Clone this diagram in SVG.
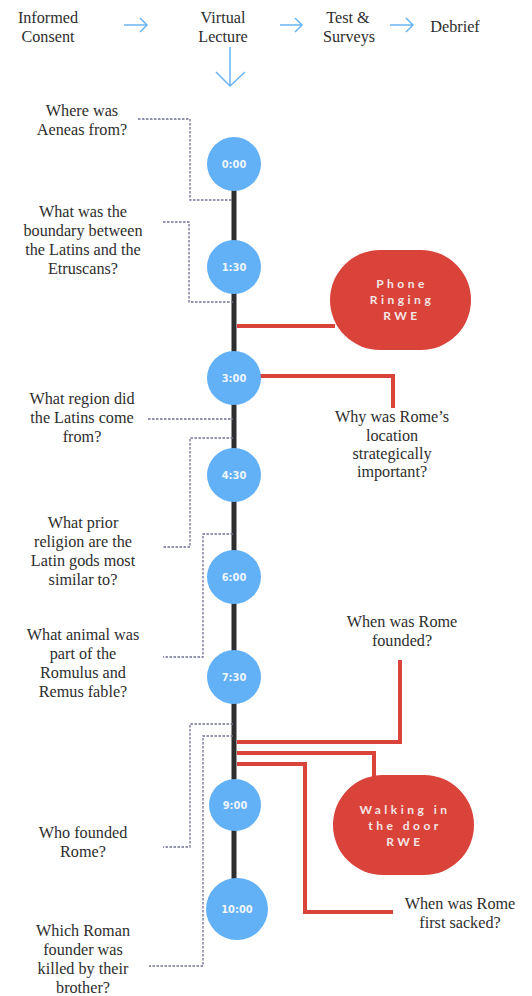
<svg xmlns="http://www.w3.org/2000/svg" width="532" height="996" viewBox="0 0 532 996">
<defs>
<style>
.q{font-family:'Liberation Serif',serif;font-size:16.2px;fill:#2e2e2e;text-anchor:middle}
.t{font-family:'DejaVu Sans Condensed','DejaVu Sans',sans-serif;font-stretch:condensed;font-weight:bold;font-size:11px;fill:#eef6ff;text-anchor:middle}
.r{font-family:'Lato','Liberation Sans',sans-serif;font-weight:bold;font-size:12px;fill:#f4e6e4;text-anchor:middle;letter-spacing:3.5px}
.dot{fill:none;stroke:#6f6f98;stroke-width:1.3;stroke-dasharray:2.5 1.5}
.red{fill:none;stroke:#d9433a;stroke-width:4}
.blue{fill:none;stroke:#6ab4f2;stroke-width:1.5}
.node{fill:#62b0f6}
.ev{fill:#d9433a}
</style>
</defs>
<rect width="532" height="996" fill="#ffffff"/>
<g id="flow">
<text class="q" x="48" y="23">Informed</text>
<text class="q" x="48" y="42">Consent</text>
<text class="q" x="223" y="23">Virtual</text>
<text class="q" x="223" y="42">Lecture</text>
<text class="q" x="348" y="23">Test &amp;</text>
<text class="q" x="349" y="42">Surveys</text>
<text class="q" x="455" y="32">Debrief</text>
</g>
<g id="flow-arrows">
<path class="blue" d="M124 25H147M140 18L147 25L140 32"/>
<path class="blue" d="M280 25H302M295 18L302 25L295 32"/>
<path class="blue" d="M390 25H413M406 18L413 25L406 32"/>
<path class="blue" d="M230 47V86M216 72L230 86L245 72"/>
</g>
<g id="connectors">
<line x1="234" y1="185" x2="234" y2="885" stroke="#2e2e2e" stroke-width="5"/>
<path class="dot" d="M138 119H190V200H233"/>
<path class="dot" d="M163 222H189V302H233"/>
<path class="dot" d="M148 419H233"/>
<path class="dot" d="M233 438H190V547H163"/>
<path class="dot" d="M233 534H203V657H163"/>
<path class="dot" d="M233 724H190V847H163"/>
<path class="dot" d="M233 736H203V966H149"/>
<path class="red" d="M237 326H335"/>
<path class="red" d="M258 376H393V408"/>
<path class="red" d="M237 742H400V660"/>
<path class="red" d="M237 753H374V777"/>
<path class="red" d="M237 764H305V912H393"/>
</g>
<g id="t0000"><circle class="node" cx="234" cy="164" r="27"/><text class="t" x="234" y="168">0:00</text></g>
<g id="t0130"><circle class="node" cx="234" cy="267" r="27"/><text class="t" x="234" y="271">1:30</text></g>
<g id="t0300"><circle class="node" cx="234" cy="378" r="27"/><text class="t" x="234" y="382">3:00</text></g>
<g id="t0430"><circle class="node" cx="234" cy="475" r="27"/><text class="t" x="234" y="479">4:30</text></g>
<g id="t0600"><circle class="node" cx="234" cy="577" r="27"/><text class="t" x="234" y="581">6:00</text></g>
<g id="t0730"><circle class="node" cx="234" cy="677" r="27"/><text class="t" x="234" y="681">7:30</text></g>
<g id="t0900"><circle class="node" cx="235" cy="805" r="26"/><text class="t" x="235" y="809">9:00</text></g>
<g id="t1000"><circle class="node" cx="237" cy="909" r="31"/><text class="t" x="237" y="913">10:00</text></g>
<g id="phone"><rect class="ev" x="330" y="250" width="141" height="100" rx="50"/>
<text class="r" x="402" y="288">Phone</text><text class="r" x="402" y="304">Ringing</text><text class="r" x="402" y="320">RWE</text></g>
<g id="walking"><rect class="ev" x="333" y="775" width="141" height="100" rx="50"/>
<text class="r" x="405" y="814">Walking in</text><text class="r" x="405" y="830">the door</text><text class="r" x="405" y="846">RWE</text></g>
<g id="q1"><text class="q" x="82" y="116">Where was</text><text class="q" x="82" y="135">Aeneas from?</text></g>
<g id="q2"><text class="q" x="83" y="217">What was the</text><text class="q" x="83" y="236">boundary between</text><text class="q" x="83" y="255">the Latins and the</text><text class="q" x="83" y="274">Etruscans?</text></g>
<g id="q3"><text class="q" x="392" y="422">Why was Rome’s</text><text class="q" x="392" y="441">location</text><text class="q" x="392" y="459">strategically</text><text class="q" x="392" y="477">important?</text></g>
<g id="q4"><text class="q" x="82" y="404">What region did</text><text class="q" x="82" y="423">the Latins come</text><text class="q" x="82" y="442">from?</text></g>
<g id="q5"><text class="q" x="83" y="528">What prior</text><text class="q" x="83" y="547">religion are the</text><text class="q" x="83" y="566">Latin gods most</text><text class="q" x="83" y="585">similar to?</text></g>
<g id="q6"><text class="q" x="83" y="640">What animal was</text><text class="q" x="83" y="659">part of the</text><text class="q" x="83" y="678">Romulus and</text><text class="q" x="83" y="697">Remus fable?</text></g>
<g id="q7"><text class="q" x="402" y="627">When was Rome</text><text class="q" x="402" y="646">founded?</text></g>
<g id="q8"><text class="q" x="83" y="838">Who founded</text><text class="q" x="83" y="857">Rome?</text></g>
<g id="q9"><text class="q" x="460" y="909">When was Rome</text><text class="q" x="460" y="928">first sacked?</text></g>
<g id="q10"><text class="q" x="83" y="936">Which Roman</text><text class="q" x="83" y="955">founder was</text><text class="q" x="83" y="974">killed by their</text><text class="q" x="83" y="993">brother?</text></g>
</svg>
